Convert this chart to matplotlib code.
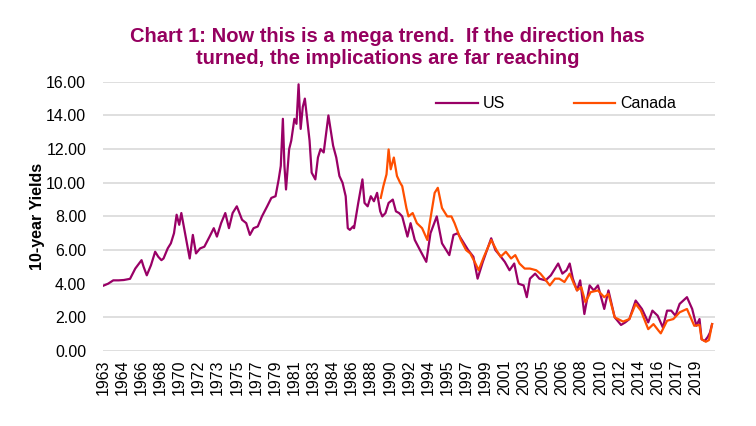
import matplotlib.pyplot as plt
import numpy as np

plt.rcParams['font.family'] = ['Liberation Sans', 'DejaVu Sans']

# US 10-year yield (fractional year, %)
us_year = [1963.0, 1963.5, 1964.0, 1964.5, 1965.0, 1965.6, 1966.1, 1966.7, 1966.9, 1967.2,
           1967.6, 1968.0, 1968.3, 1968.6, 1968.8, 1969.2, 1969.5, 1969.8, 1970.05, 1970.3,
           1970.5, 1970.8, 1971.0, 1971.3, 1971.6, 1971.9, 1972.3, 1972.7, 1973.2, 1973.6,
           1973.9, 1974.3, 1974.7, 1975.05, 1975.4, 1975.8, 1976.3, 1976.7, 1977.05, 1977.4,
           1977.8, 1978.2, 1978.7, 1979.1, 1979.5, 1979.8, 1980.0, 1980.2, 1980.35, 1980.5,
           1980.8, 1981.0, 1981.3, 1981.5, 1981.7, 1981.9, 1982.1, 1982.3, 1982.55, 1982.75,
           1982.95, 1983.3, 1983.55, 1983.8, 1984.1, 1984.55, 1984.8, 1985.0, 1985.3, 1985.6,
           1985.9, 1986.2, 1986.4, 1986.6, 1986.9, 1987.0, 1987.4, 1987.8, 1988.0, 1988.3,
           1988.6, 1988.9, 1989.2, 1989.5, 1989.7, 1990.0, 1990.3, 1990.7, 1991.0, 1991.3,
           1991.6, 1992.1, 1992.4, 1992.8, 1993.3, 1993.9, 1994.3, 1994.9, 1995.4, 1996.1,
           1996.5, 1996.9, 1997.3, 1997.9, 1998.4, 1998.8, 1999.3, 1999.7, 2000.1, 2000.5,
           2000.9, 2001.4, 2001.85, 2002.3, 2002.7, 2003.2, 2003.5, 2003.8, 2004.3, 2004.7,
           2005.3, 2005.8, 2006.5, 2006.9, 2007.3, 2007.6, 2007.9, 2008.3, 2008.6, 2009.0,
           2009.5, 2009.9, 2010.3, 2010.9, 2011.3, 2011.9, 2012.5, 2012.9, 2013.3, 2013.9,
           2014.5, 2015.1, 2015.5, 2016.0, 2016.5, 2016.9, 2017.3, 2017.7, 2018.1, 2018.8,
           2019.3, 2019.7, 2020.0, 2020.2, 2020.5, 2020.8, 2021.0, 2021.2]
us_yield = [3.87, 4.0, 4.2, 4.2, 4.22, 4.29, 4.9, 5.4, 5.0, 4.5,
            5.1, 5.9, 5.6, 5.4, 5.5, 6.1, 6.4, 7.0, 8.1, 7.5,
            8.2, 7.2, 6.5, 5.5, 6.9, 5.8, 6.1, 6.2, 6.8, 7.3,
            6.8, 7.6, 8.2, 7.3, 8.2, 8.6, 7.8, 7.6, 6.9, 7.3,
            7.4, 8.0, 8.6, 9.1, 9.2, 10.2, 11.0, 13.8, 11.0, 9.6,
            12.0, 12.5, 13.8, 13.5, 15.85, 13.2, 14.5, 15.0, 13.6, 12.5,
            10.6, 10.2, 11.5, 12.0, 11.8, 14.0, 13.0, 12.2, 11.5, 10.4,
            10.0, 9.2, 7.3, 7.2, 7.4, 7.3, 8.8, 10.2, 8.8, 8.6,
            9.2, 8.9, 9.4, 8.3, 8.0, 8.2, 8.8, 9.0, 8.3, 8.2,
            8.0, 6.8, 7.6, 6.6, 6.0, 5.3, 7.0, 8.0, 6.4, 5.7,
            6.9, 7.0, 6.6, 6.0, 5.6, 4.3, 5.3, 6.0, 6.7, 6.0,
            5.7, 5.3, 4.8, 5.2, 4.0, 3.9, 3.2, 4.3, 4.6, 4.3,
            4.2, 4.5, 5.2, 4.6, 4.8, 5.2, 4.3, 3.6, 4.2, 2.2,
            3.9, 3.6, 3.9, 2.5, 3.6, 2.0, 1.55, 1.7, 1.9, 3.0,
            2.5, 1.7, 2.4, 2.1, 1.4, 2.4, 2.4, 2.1, 2.8, 3.2,
            2.5, 1.5, 1.9, 0.7, 0.6, 0.85, 1.1, 1.6]

# Canada 10-year yield
ca_year = [1989.55, 1989.8, 1990.1, 1990.3, 1990.5, 1990.8, 1991.1, 1991.4, 1991.6, 1992.0,
           1992.2, 1992.6, 1993.0, 1993.5, 1994.0, 1994.2, 1994.7, 1995.0, 1995.4, 1995.9,
           1996.3, 1996.6, 1997.2, 1997.7, 1998.1, 1998.6, 1998.9, 1999.4, 2000.1, 2000.6,
           2001.0, 2001.5, 2002.0, 2002.4, 2002.8, 2003.3, 2003.8, 2004.4, 2004.8, 2005.2,
           2005.7, 2006.2, 2006.6, 2007.1, 2007.6, 2008.0, 2008.3, 2008.7, 2009.1, 2009.6,
           2010.3, 2010.9, 2011.3, 2011.9, 2012.7, 2013.3, 2013.9, 2014.4, 2015.1, 2015.6,
           2016.1, 2016.3, 2016.9, 2017.5, 2018.1, 2018.8, 2019.5, 2020.0, 2020.2, 2020.6,
           2020.9, 2021.2]
ca_yield = [9.1, 9.8, 10.5, 11.98, 10.8, 11.5, 10.4, 10.0, 9.8, 8.5,
            8.0, 8.2, 7.6, 7.3, 6.6, 7.5, 9.4, 9.7, 8.5, 8.0,
            8.0, 7.6, 6.6, 6.0, 5.8, 5.2, 4.8, 5.6, 6.6, 6.0,
            5.6, 5.9, 5.5, 5.7, 5.2, 4.9, 4.9, 4.8, 4.6, 4.3,
            3.9, 4.3, 4.3, 4.1, 4.6, 4.0, 3.6, 3.8, 2.9, 3.5,
            3.6, 3.2, 3.4, 2.0, 1.75, 1.9, 2.8, 2.4, 1.3, 1.6,
            1.2, 1.05, 1.8, 1.9, 2.3, 2.5, 1.5, 1.55, 0.7, 0.55,
            0.65, 1.6]

# category-style tick labels (every ~1.83 years)
tick_labels = ['1963', '1964', '1966', '1968', '1970', '1972', '1973', '1975', '1977', '1979',
               '1981', '1983', '1984', '1986', '1988', '1990', '1992', '1994', '1995', '1997',
               '1999', '2001', '2003', '2005', '2006', '2008', '2010', '2012', '2014', '2016',
               '2017', '2019']

maroon = '#990066'
orange = '#FF4F00'

fig = plt.figure(figsize=(7.56, 4.26), dpi=100)
ax = fig.add_axes([0.136, 0.176, 0.810, 0.632])

ax.plot(us_year, us_yield, color=maroon, lw=1.6, label='US')
ax.plot(ca_year, ca_yield, color=orange, lw=1.6, label='Canada')

ax.set_ylim(0, 16)
ax.set_yticks(np.arange(0, 17, 2))
ax.set_yticklabels(['%.2f' % v for v in np.arange(0, 17, 2)], fontsize=11.5)
ax.set_xlim(1963.0, 1963.0 + 32 * 1.828)
ax.set_xticks(1963.0 + np.arange(len(tick_labels)) * 1.828)
ax.set_xticklabels(tick_labels, rotation=90, fontsize=11.5)
ax.tick_params(axis='y', length=0, pad=12)
ax.tick_params(axis='x', length=0, pad=6)
ax.grid(axis='y', color='#d9d9d9', lw=1.2)
ax.set_axisbelow(True)
for s in ax.spines.values():
    s.set_visible(False)

ax.set_ylabel('10-year Yields', fontsize=11.5, fontweight='bold', labelpad=1)

ax.legend(loc='center', bbox_to_anchor=(0.74, 0.918), ncol=2, frameon=False,
          fontsize=11.5, handlelength=2.6, columnspacing=4.3, handletextpad=0.3)

fig.text(0.513, 0.889, 'Chart 1: Now this is a mega trend.  If the direction has\n'
         'turned, the implications are far reaching',
         ha='center', va='center', fontsize=14.5, fontweight='bold', color='#95005F',
         linespacing=1.2)

fig.savefig('out.png', dpi=100)
